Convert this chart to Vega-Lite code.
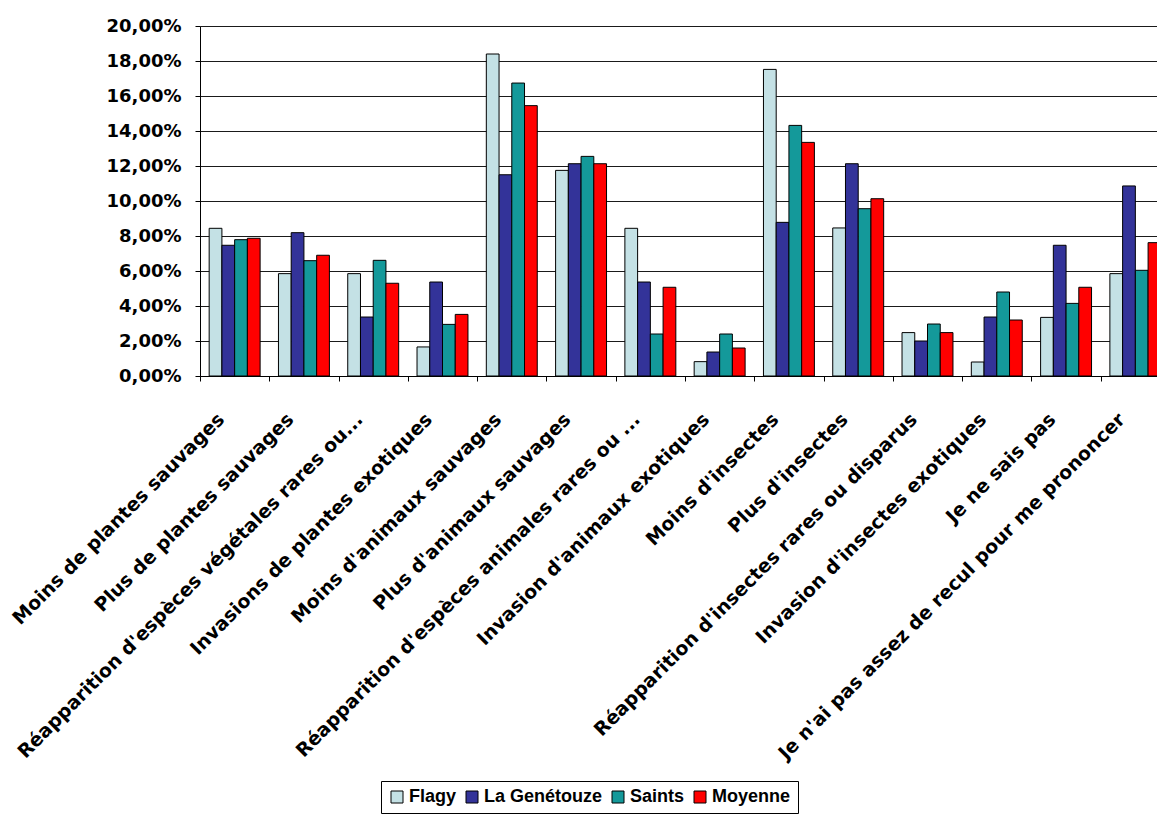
{
  "$schema": "https://vega.github.io/schema/vega-lite/v6.json",
  "autosize": {"type": "none"},
  "padding": {"left": 200, "top": 26, "right": 0, "bottom": 440},
  "width": 957,
  "height": 350,
  "background": "white",
  "config": {
    "locale": {"number": {"decimal": ",", "thousands": " ", "grouping": [3], "currency": ["", " €"]}},
    "view": {"stroke": null},
    "font": "DejaVu Sans"
  },
  "data": {
    "values": [
      {"cat": "Moins de plantes sauvages", "serie": "Flagy", "val": 0.0844},
      {"cat": "Moins de plantes sauvages", "serie": "La Genétouze", "val": 0.0747},
      {"cat": "Moins de plantes sauvages", "serie": "Saints", "val": 0.0779},
      {"cat": "Moins de plantes sauvages", "serie": "Moyenne", "val": 0.0787},
      {"cat": "Plus de plantes sauvages", "serie": "Flagy", "val": 0.0585},
      {"cat": "Plus de plantes sauvages", "serie": "La Genétouze", "val": 0.0819},
      {"cat": "Plus de plantes sauvages", "serie": "Saints", "val": 0.0659},
      {"cat": "Plus de plantes sauvages", "serie": "Moyenne", "val": 0.069},
      {"cat": "Réapparition d'espèces végétales rares ou...", "serie": "Flagy", "val": 0.0585},
      {"cat": "Réapparition d'espèces végétales rares ou...", "serie": "La Genétouze", "val": 0.0337},
      {"cat": "Réapparition d'espèces végétales rares ou...", "serie": "Saints", "val": 0.0661},
      {"cat": "Réapparition d'espèces végétales rares ou...", "serie": "Moyenne", "val": 0.053},
      {"cat": "Invasions de plantes exotiques", "serie": "Flagy", "val": 0.0166},
      {"cat": "Invasions de plantes exotiques", "serie": "La Genétouze", "val": 0.0537},
      {"cat": "Invasions de plantes exotiques", "serie": "Saints", "val": 0.0295},
      {"cat": "Invasions de plantes exotiques", "serie": "Moyenne", "val": 0.0352},
      {"cat": "Moins d'animaux sauvages", "serie": "Flagy", "val": 0.184},
      {"cat": "Moins d'animaux sauvages", "serie": "La Genétouze", "val": 0.115},
      {"cat": "Moins d'animaux sauvages", "serie": "Saints", "val": 0.1674},
      {"cat": "Moins d'animaux sauvages", "serie": "Moyenne", "val": 0.1545},
      {"cat": "Plus d'animaux sauvages", "serie": "Flagy", "val": 0.1175},
      {"cat": "Plus d'animaux sauvages", "serie": "La Genétouze", "val": 0.1213},
      {"cat": "Plus d'animaux sauvages", "serie": "Saints", "val": 0.1255},
      {"cat": "Plus d'animaux sauvages", "serie": "Moyenne", "val": 0.1213},
      {"cat": "Réapparition d'espèces animales rares ou ...", "serie": "Flagy", "val": 0.0844},
      {"cat": "Réapparition d'espèces animales rares ou ...", "serie": "La Genétouze", "val": 0.0537},
      {"cat": "Réapparition d'espèces animales rares ou ...", "serie": "Saints", "val": 0.024},
      {"cat": "Réapparition d'espèces animales rares ou ...", "serie": "Moyenne", "val": 0.0507},
      {"cat": "Invasion d'animaux exotiques", "serie": "Flagy", "val": 0.0082},
      {"cat": "Invasion d'animaux exotiques", "serie": "La Genétouze", "val": 0.0137},
      {"cat": "Invasion d'animaux exotiques", "serie": "Saints", "val": 0.024},
      {"cat": "Invasion d'animaux exotiques", "serie": "Moyenne", "val": 0.016},
      {"cat": "Moins d'insectes", "serie": "Flagy", "val": 0.1752},
      {"cat": "Moins d'insectes", "serie": "La Genétouze", "val": 0.0878},
      {"cat": "Moins d'insectes", "serie": "Saints", "val": 0.1432},
      {"cat": "Moins d'insectes", "serie": "Moyenne", "val": 0.1335},
      {"cat": "Plus d'insectes", "serie": "Flagy", "val": 0.0846},
      {"cat": "Plus d'insectes", "serie": "La Genétouze", "val": 0.1213},
      {"cat": "Plus d'insectes", "serie": "Saints", "val": 0.0956},
      {"cat": "Plus d'insectes", "serie": "Moyenne", "val": 0.1013},
      {"cat": "Réapparition d'insectes rares ou disparus", "serie": "Flagy", "val": 0.0248},
      {"cat": "Réapparition d'insectes rares ou disparus", "serie": "La Genétouze", "val": 0.02},
      {"cat": "Réapparition d'insectes rares ou disparus", "serie": "Saints", "val": 0.0297},
      {"cat": "Réapparition d'insectes rares ou disparus", "serie": "Moyenne", "val": 0.0248},
      {"cat": "Invasion d'insectes exotiques", "serie": "Flagy", "val": 0.008},
      {"cat": "Invasion d'insectes exotiques", "serie": "La Genétouze", "val": 0.0337},
      {"cat": "Invasion d'insectes exotiques", "serie": "Saints", "val": 0.048},
      {"cat": "Invasion d'insectes exotiques", "serie": "Moyenne", "val": 0.032},
      {"cat": "Je ne sais pas", "serie": "Flagy", "val": 0.0335},
      {"cat": "Je ne sais pas", "serie": "La Genétouze", "val": 0.0747},
      {"cat": "Je ne sais pas", "serie": "Saints", "val": 0.0415},
      {"cat": "Je ne sais pas", "serie": "Moyenne", "val": 0.0507},
      {"cat": "Je n'ai pas assez de recul pour me prononcer", "serie": "Flagy", "val": 0.0585},
      {"cat": "Je n'ai pas assez de recul pour me prononcer", "serie": "La Genétouze", "val": 0.1086},
      {"cat": "Je n'ai pas assez de recul pour me prononcer", "serie": "Saints", "val": 0.0604},
      {"cat": "Je n'ai pas assez de recul pour me prononcer", "serie": "Moyenne", "val": 0.0762}
    ]
  },
  "mark": {"type": "bar", "stroke": "black", "strokeWidth": 1, "clip": true},
  "encoding": {
    "x": {
      "field": "cat",
      "type": "nominal",
      "sort": null,
      "scale": {"range": [0, 970], "paddingInner": 0, "paddingOuter": 0},
      "axis": {
        "title": null,
        "tickBand": "extent",
        "ticks": true,
        "tickSize": 5,
        "tickColor": "black",
        "domainColor": "black",
        "labelAngle": -45,
        "labelAlign": "right",
        "labelBaseline": "middle",
        "labelPadding": 35,
        "labelOffset": -14,
        "labelFont": "DejaVu Sans",
        "labelFontWeight": "bold",
        "labelFontSize": 19,
        "labelColor": "black",
        "labelLimit": 800,
        "labelOverlap": false,
        "labelBound": false,
        "grid": false
      }
    },
    "xOffset": {
      "field": "serie",
      "type": "nominal",
      "sort": ["Flagy", "La Genétouze", "Saints", "Moyenne"],
      "scale": {"paddingInner": 0, "paddingOuter": 0.72}
    },
    "y": {
      "field": "val",
      "type": "quantitative",
      "scale": {"domain": [0, 0.2], "nice": false},
      "axis": {
        "title": null,
        "values": [0, 0.02, 0.04, 0.06, 0.08, 0.1, 0.12, 0.14, 0.16, 0.18, 0.2],
        "format": ".2%",
        "grid": true,
        "gridColor": "#1a1a1a",
        "gridWidth": 1,
        "domainColor": "black",
        "tickColor": "black",
        "tickSize": 5,
        "labelPadding": 14,
        "labelFont": "DejaVu Sans",
        "labelFontWeight": "bold",
        "labelFontSize": 18,
        "labelColor": "black"
      }
    },
    "color": {
      "field": "serie",
      "type": "nominal",
      "sort": ["Flagy", "La Genétouze", "Saints", "Moyenne"],
      "scale": {
        "domain": ["Flagy", "La Genétouze", "Saints", "Moyenne"],
        "range": ["#C4E1E5", "#333399", "#14999A", "#FF0000"]
      },
      "legend": {
        "title": null,
        "orient": "none",
        "legendX": 181,
        "legendY": 755,
        "direction": "horizontal",
        "strokeColor": "black",
        "fillColor": "white",
        "padding": 7,
        "symbolType": "square",
        "symbolSize": 144,
        "symbolStrokeColor": "black",
        "symbolStrokeWidth": 1,
        "labelFont": "Liberation Sans",
        "labelFontWeight": "bold",
        "labelFontSize": 18,
        "labelColor": "black",
        "labelOffset": 3,
        "columnPadding": 6,
        "labelLimit": 300
      }
    }
  }
}
